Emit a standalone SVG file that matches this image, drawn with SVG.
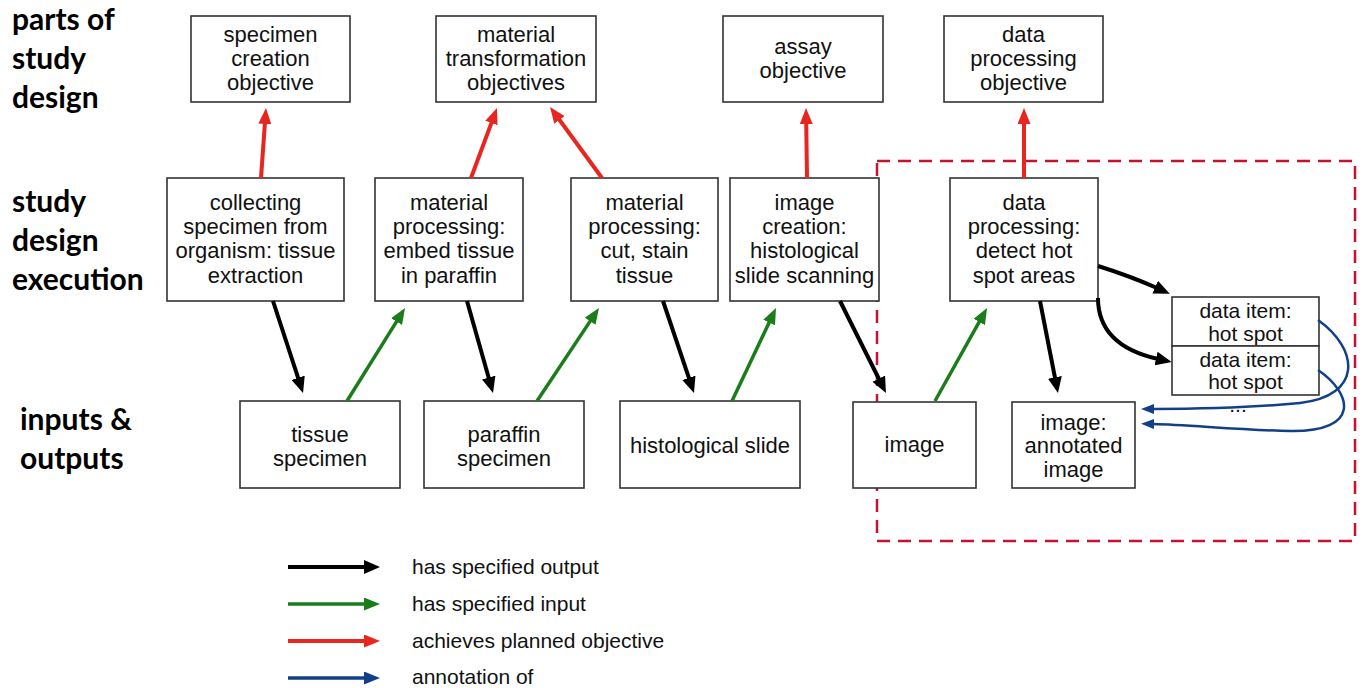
<svg xmlns="http://www.w3.org/2000/svg" width="1363" height="688" viewBox="0 0 1363 688">
<style>
.box{fill:#fff;stroke:#333;stroke-width:1.6}
.t{font-family:"Liberation Sans",Arial,sans-serif;font-size:22px;fill:#111;text-anchor:middle}
.ts{font-family:"Liberation Sans",Arial,sans-serif;font-size:21px;fill:#111;text-anchor:middle}
.lt{font-family:"Liberation Sans",Arial,sans-serif;font-size:21px;fill:#111}
.lab{font-family:Lato,"Open Sans",sans-serif;font-size:30px;font-weight:bold;fill:#000}
.out{fill:none;stroke:#000;stroke-width:4}
.in{fill:none;stroke:#1a7d1a;stroke-width:3.5}
.obj{fill:none;stroke:#e8261f;stroke-width:4}
.ann{fill:none;stroke:#123f8a;stroke-width:2.5}
</style>
<defs>
<marker id="hOut" markerUnits="userSpaceOnUse" markerWidth="16" markerHeight="14" viewBox="0 0 16 14" refX="2" refY="7" orient="auto"><path d="M0,0 L16,7 L0,14 z" fill="#000"/></marker>
<marker id="hIn" markerUnits="userSpaceOnUse" markerWidth="16" markerHeight="13" viewBox="0 0 16 13" refX="2" refY="6.5" orient="auto"><path d="M0,0 L16,6.5 L0,13 z" fill="#1a7d1a"/></marker>
<marker id="hObj" markerUnits="userSpaceOnUse" markerWidth="16" markerHeight="13" viewBox="0 0 16 13" refX="2" refY="6.5" orient="auto"><path d="M0,0 L16,6.5 L0,13 z" fill="#e8261f"/></marker>
<marker id="hAnn" markerUnits="userSpaceOnUse" markerWidth="13" markerHeight="10" viewBox="0 0 13 10" refX="1" refY="5" orient="auto"><path d="M0,0 L13,5 L0,10 z" fill="#123f8a"/></marker>
<marker id="hAnnL" markerUnits="userSpaceOnUse" markerWidth="16" markerHeight="13" viewBox="0 0 16 13" refX="2" refY="6.5" orient="auto"><path d="M0,0 L16,6.5 L0,13 z" fill="#123f8a"/></marker>
</defs>

<g id="labels">
<text class="lab" x="12" y="30">parts of</text>
<text class="lab" x="12" y="69">study</text>
<text class="lab" x="12" y="108">design</text>
<text class="lab" x="12" y="212">study</text>
<text class="lab" x="12" y="251">design</text>
<text class="lab" x="12" y="290">execution</text>
<text class="lab" x="20" y="430">inputs &amp;</text>
<text class="lab" x="20" y="469">outputs</text>
</g>

<rect id="scope" x="877" y="161" width="478" height="380" fill="none" stroke="#c4122f" stroke-width="2.5" stroke-dasharray="13,8"/>

<g id="obj-specimen"><rect class="box" x="191" y="16" width="159" height="86"/><text class="t" x="270.5" y="42">specimen</text><text class="t" x="270.5" y="66">creation</text><text class="t" x="270.5" y="90">objective</text></g>
<g id="obj-material"><rect class="box" x="436" y="16" width="160" height="86"/><text class="t" x="516" y="42">material</text><text class="t" x="516" y="66">transformation</text><text class="t" x="516" y="90">objectives</text></g>
<g id="obj-assay"><rect class="box" x="723" y="16" width="160" height="86"/><text class="t" x="803" y="54">assay</text><text class="t" x="803" y="78">objective</text></g>
<g id="obj-data"><rect class="box" x="944" y="16" width="159" height="86"/><text class="t" x="1023.5" y="42">data</text><text class="t" x="1023.5" y="66">processing</text><text class="t" x="1023.5" y="90">objective</text></g>

<g id="p-collect"><rect class="box" x="167" y="178" width="177" height="123"/><text class="t" x="255.5" y="210">collecting</text><text class="t" x="255.5" y="234">specimen from</text><text class="t" x="255.5" y="258">organism: tissue</text><text class="t" x="255.5" y="283">extraction</text></g>
<g id="p-embed"><rect class="box" x="375" y="178" width="148" height="123"/><text class="t" x="449" y="210">material</text><text class="t" x="449" y="234">processing:</text><text class="t" x="449" y="258">embed tissue</text><text class="t" x="449" y="283">in paraffin</text></g>
<g id="p-cut"><rect class="box" x="571" y="178" width="147" height="123"/><text class="t" x="644.5" y="210">material</text><text class="t" x="644.5" y="234">processing:</text><text class="t" x="644.5" y="258">cut, stain</text><text class="t" x="644.5" y="283">tissue</text></g>
<g id="p-image"><rect class="box" x="730" y="178" width="149" height="123"/><text class="t" x="804.5" y="210">image</text><text class="t" x="804.5" y="234">creation:</text><text class="t" x="804.5" y="258">histological</text><text class="t" x="804.5" y="283">slide scanning</text></g>
<g id="p-data"><rect class="box" x="950" y="178" width="148" height="123"/><text class="t" x="1024" y="210">data</text><text class="t" x="1024" y="234">processing:</text><text class="t" x="1024" y="258">detect hot</text><text class="t" x="1024" y="283">spot areas</text></g>

<g id="io-tissue"><rect class="box" x="240" y="401" width="160" height="87"/><text class="t" x="320" y="442">tissue</text><text class="t" x="320" y="466">specimen</text></g>
<g id="io-paraffin"><rect class="box" x="424" y="401" width="160" height="87"/><text class="t" x="504" y="442">paraffin</text><text class="t" x="504" y="466">specimen</text></g>
<g id="io-slide"><rect class="box" x="620" y="401" width="180" height="87"/><text class="t" x="710" y="453">histological slide</text></g>
<g id="io-image"><rect class="box" x="853" y="402" width="123" height="86"/><text class="t" x="914.5" y="452">image</text></g>
<g id="io-annotated"><rect class="box" x="1012" y="402" width="123" height="86"/><text class="t" x="1073.5" y="430">image:</text><text class="t" x="1073.5" y="453">annotated</text><text class="t" x="1073.5" y="477">image</text></g>
<g id="io-hotspots"><rect class="box" x="1172" y="297" width="147" height="49"/><text class="ts" x="1245.5" y="318">data item:</text><text class="ts" x="1245.5" y="341">hot spot</text><rect class="box" x="1172" y="346" width="147" height="49"/><text class="ts" x="1245.5" y="367">data item:</text><text class="ts" x="1245.5" y="389">hot spot</text><text class="ts" x="1238" y="412">...</text></g>

<g id="connectors">
<line class="obj" x1="261" y1="178" x2="265" y2="122" marker-end="url(#hObj)"/>
<line class="obj" x1="471" y1="178" x2="492.1" y2="121.1" marker-end="url(#hObj)"/>
<line class="obj" x1="602" y1="178" x2="558.3" y2="118.3" marker-end="url(#hObj)"/>
<line class="obj" x1="807" y1="178" x2="806.2" y2="122" marker-end="url(#hObj)"/>
<line class="obj" x1="1024" y1="178" x2="1024" y2="122" marker-end="url(#hObj)"/>

<line class="out" x1="273" y1="301" x2="298.7" y2="379.7" marker-end="url(#hOut)"/>
<line class="out" x1="467" y1="301" x2="489.2" y2="379.5" marker-end="url(#hOut)"/>
<line class="out" x1="663" y1="301" x2="689.5" y2="379.7" marker-end="url(#hOut)"/>
<line class="out" x1="840" y1="301" x2="879.7" y2="380.5" marker-end="url(#hOut)"/>
<line class="out" x1="1040" y1="301" x2="1055.3" y2="379.3" marker-end="url(#hOut)"/>
<path class="out" d="M1098,266 Q1130,276 1157,288" marker-end="url(#hOut)"/>
<path class="out" d="M1098,298 C1098,330 1118,350 1158,359" marker-end="url(#hOut)"/>

<line class="in" x1="347" y1="401" x2="397.6" y2="319.9" marker-end="url(#hIn)"/>
<line class="in" x1="537" y1="401" x2="591.2" y2="319.6" marker-end="url(#hIn)"/>
<line class="in" x1="732" y1="401" x2="770" y2="320.7" marker-end="url(#hIn)"/>
<line class="in" x1="935" y1="401" x2="980.2" y2="320.2" marker-end="url(#hIn)"/>

<path class="ann" d="M1318,320 C1360,350 1362,396 1300,403 C1250,408 1190,409 1153,409" marker-end="url(#hAnn)"/>
<path class="ann" d="M1318,370 C1352,393 1362,432 1290,431 C1240,430 1190,425 1153,424" marker-end="url(#hAnn)"/>
</g>

<g id="legend">
<line class="out" x1="288" y1="567" x2="366" y2="567" marker-end="url(#hOut)"/>
<line class="in" x1="288" y1="604" x2="366" y2="604" marker-end="url(#hIn)"/>
<line class="obj" x1="288" y1="641" x2="366" y2="641" marker-end="url(#hObj)"/>
<line class="ann" x1="288" y1="678" x2="366" y2="678" style="stroke-width:3.5" marker-end="url(#hAnnL)"/>
<text class="lt" x="412" y="574">has specified output</text>
<text class="lt" x="412" y="611">has specified input</text>
<text class="lt" x="412" y="648">achieves planned objective</text>
<text class="lt" x="412" y="684">annotation of</text>
</g>
</svg>
